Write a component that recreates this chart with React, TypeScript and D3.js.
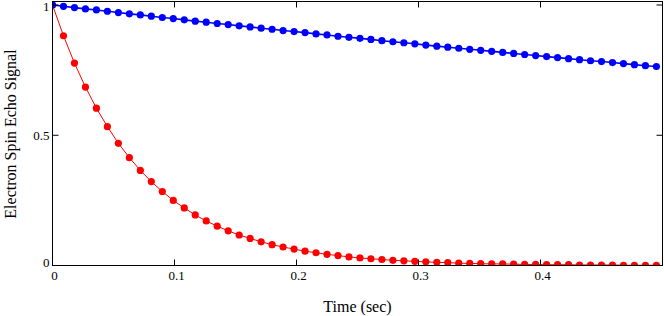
import * as d3 from "d3";

// sample times (sec)
const time = [
  0, 0.009, 0.018, 0.027, 0.036, 0.045, 0.054, 0.063, 0.072, 0.081,
  0.09, 0.099, 0.108, 0.117, 0.126, 0.135, 0.144, 0.153, 0.162, 0.171,
  0.18, 0.189, 0.198, 0.207, 0.216, 0.225, 0.234, 0.243, 0.252, 0.261,
  0.27, 0.279, 0.288, 0.297, 0.306, 0.315, 0.324, 0.333, 0.342, 0.351,
  0.36, 0.369, 0.378, 0.387, 0.396, 0.405, 0.414, 0.423, 0.432, 0.441,
  0.45, 0.459, 0.468, 0.477, 0.486, 0.495,
];

// slow decay (blue)
const slowEcho = [
  1.0, 0.995, 0.99, 0.985, 0.981, 0.976, 0.971, 0.966, 0.962, 0.957,
  0.952, 0.948, 0.943, 0.938, 0.934, 0.929, 0.925, 0.92, 0.916, 0.911,
  0.907, 0.902, 0.898, 0.894, 0.889, 0.885, 0.88, 0.876, 0.872, 0.868,
  0.863, 0.859, 0.855, 0.851, 0.846, 0.842, 0.838, 0.834, 0.83, 0.826,
  0.822, 0.818, 0.814, 0.81, 0.806, 0.802, 0.798, 0.794, 0.79, 0.786,
  0.783, 0.779, 0.775, 0.771, 0.767, 0.764,
];

// fast decay (red)
const fastEcho = [
  1.0, 0.882, 0.777, 0.685, 0.604, 0.533, 0.469, 0.414, 0.365, 0.322,
  0.284, 0.25, 0.221, 0.194, 0.171, 0.151, 0.133, 0.117, 0.104, 0.091,
  0.08, 0.071, 0.063, 0.055, 0.049, 0.043, 0.038, 0.033, 0.029, 0.026,
  0.023, 0.02, 0.018, 0.016, 0.014, 0.012, 0.011, 0.009, 0.008, 0.007,
  0.006, 0.006, 0.005, 0.004, 0.004, 0.003, 0.003, 0.003, 0.002, 0.002,
  0.002, 0.002, 0.001, 0.001, 0.001, 0.001,
];

const xTicks = [0, 0.1, 0.2, 0.3, 0.4];
const xTickLabels = ["0", "0.1", "0.2", "0.3", "0.4"];
const yTicks = [0, 0.5, 1];
const yTickLabels = ["0", "0.5", "1"];

const W = 664;
const H = 316;
const left = 52.5;
const right = 662.5;
const top = 1.5;
const bottom = 265.5;

const FONT = '"Liberation Serif", "Times New Roman", Times, serif';

export default function App() {
  const x = d3.scaleLinear().domain([0, 0.5]).range([left, right]);
  const y = d3.scaleLinear().domain([0, 1]).range([bottom, 5]);

  const line = d3
    .line<number>()
    .x((_, i) => x(time[i]))
    .y((d) => y(d));

  const series = [
    { values: fastEcho, color: "#ff0000", width: 1 },
    { values: slowEcho, color: "#0000ff", width: 1.6 },
  ];

  return (
    <svg
      width={W}
      height={H}
      style={{ position: "absolute", left: 0, top: 0, background: "#fff", fontFamily: FONT }}
    >
      <defs>
        <clipPath id="plot-clip">
          <rect x={left} y={top} width={right - left} height={bottom - top} />
        </clipPath>
      </defs>

      <g clipPath="url(#plot-clip)">
        {series.map((s) => (
          <g key={s.color}>
            <path d={line(s.values) ?? ""} fill="none" stroke={s.color} strokeWidth={s.width} />
            {s.values.map((v, i) => (
              <circle key={i} cx={x(time[i])} cy={y(v)} r={3.6} fill={s.color} />
            ))}
          </g>
        ))}
      </g>

      {/* frame */}
      <rect
        x={left}
        y={top}
        width={right - left}
        height={bottom - top}
        fill="none"
        stroke="#000"
        strokeWidth={1}
      />

      {/* x ticks, bottom and top, pointing inward */}
      {xTicks.map((t, i) => (
        <g key={"x" + i}>
          {t > 0 && (
            <>
              <line x1={x(t)} x2={x(t)} y1={bottom} y2={bottom - 6} stroke="#000" />
              <line x1={x(t)} x2={x(t)} y1={top} y2={top + 6} stroke="#000" />
            </>
          )}
          <text x={x(t) + 2} y={280} fontSize={13} textAnchor="middle" fill="#000">
            {xTickLabels[i]}
          </text>
        </g>
      ))}

      {/* y ticks, left and right */}
      {yTicks.map((t, i) => (
        <g key={"y" + i}>
          {t > 0 && (
            <>
              <line x1={left} x2={left + 6} y1={y(t)} y2={y(t)} stroke="#000" />
              <line x1={right} x2={right - 6} y1={y(t)} y2={y(t)} stroke="#000" />
            </>
          )}
          <text
            x={left - 3}
            y={t === 0 ? y(t) + 1 : t === 1 ? y(t) + 5.5 : y(t) + 4.5}
            fontSize={13}
            textAnchor="end"
            fill="#000"
          >
            {yTickLabels[i]}
          </text>
        </g>
      ))}

      {/* axis titles */}
      <text x={(left + right) / 2} y={312} fontSize={16} textAnchor="middle" fill="#000">
        Time (sec)
      </text>
      <text
        transform={`translate(16, 134) rotate(-90)`}
        fontSize={16}
        textAnchor="middle"
        fill="#000"
      >
        Electron Spin Echo Signal
      </text>
    </svg>
  );
}
